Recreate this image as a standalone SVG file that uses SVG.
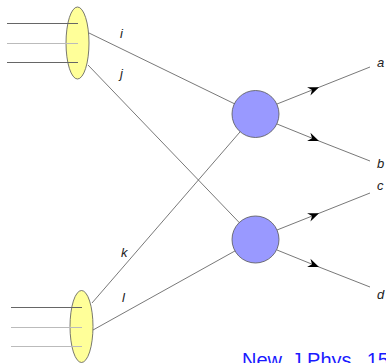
<svg xmlns="http://www.w3.org/2000/svg" width="386" height="363" viewBox="0 0 386 363">
  <style>
    .beam { fill: #ffff99; stroke: #555; stroke-width: 0.8; }
    .blob { fill: #9999ff; stroke: #555; stroke-width: 0.8; }
    .ln { fill: none; stroke: #555; stroke-width: 0.8; }
    .in-d { stroke: #666; stroke-width: 1; }
    .in-l { stroke: #bbb; stroke-width: 1; }
    .lbl { font-family: "Liberation Sans", Arial, sans-serif; font-style: italic; font-size: 13px; fill: #222; }
    .cite { font-family: "Liberation Sans", Arial, sans-serif; font-size: 20px; fill: #1a1aff; word-spacing: 4px; }
  </style>
  <defs>
    <marker id="arr" markerUnits="userSpaceOnUse" markerWidth="14" markerHeight="12" viewBox="-12 -6 14 12" refX="0" refY="0" orient="auto">
      <path d="M0,0 L-11,-4.5 L-7.5,0 L-11,4.5 Z" fill="#000"/>
    </marker>
  </defs>

  <g id="connectors">
    <!-- internal lines, beam to blob -->
    <line class="ln" x1="89" y1="33" x2="255.5" y2="114"/>
    <line class="ln" x1="88" y1="65" x2="255.5" y2="239.5"/>
    <line class="ln" x1="92" y1="303" x2="255.5" y2="114"/>
    <line class="ln" x1="93" y1="330" x2="255.5" y2="239.5"/>
    <!-- outgoing lines with mid arrows -->
    <polyline class="ln" points="277,104 319,87.3 370,67" marker-mid="url(#arr)"/>
    <polyline class="ln" points="277,124 319,141 370,161" marker-mid="url(#arr)"/>
    <polyline class="ln" points="277,230 319,213.3 370,193" marker-mid="url(#arr)"/>
    <polyline class="ln" points="277,250 319,267 370,287" marker-mid="url(#arr)"/>
  </g>

  <g id="beam-top">
    <ellipse class="beam" cx="77.5" cy="43" rx="11.5" ry="36"/>
    <line class="in-d" x1="7" y1="23.5" x2="78" y2="23.5"/>
    <line class="in-l" x1="7" y1="43.5" x2="78" y2="43.5"/>
    <line class="in-d" x1="7" y1="62.5" x2="78" y2="62.5"/>
  </g>

  <g id="beam-bottom">
    <ellipse class="beam" cx="81.5" cy="326.5" rx="11.5" ry="36"/>
    <line class="in-d" x1="11" y1="307.5" x2="82" y2="307.5"/>
    <line class="in-l" x1="11" y1="327.5" x2="82" y2="327.5"/>
    <line class="in-l" x1="11" y1="346.5" x2="82" y2="346.5"/>
  </g>

  <g id="vertex-top">
    <circle class="blob" cx="255.5" cy="114" r="23.5"/>
  </g>
  <g id="vertex-bottom">
    <circle class="blob" cx="255.5" cy="239.5" r="23.5"/>
  </g>

  <g id="labels">
    <text class="lbl" x="120" y="38">i</text>
    <text class="lbl" x="120" y="78">j</text>
    <text class="lbl" x="121" y="257">k</text>
    <text class="lbl" x="122" y="302">l</text>
    <text class="lbl" x="377" y="67">a</text>
    <text class="lbl" x="377" y="168">b</text>
    <text class="lbl" x="377" y="190">c</text>
    <text class="lbl" x="377" y="299">d</text>
  </g>

  <text class="cite" x="242" y="367">New J.Phys. 15</text>
</svg>
